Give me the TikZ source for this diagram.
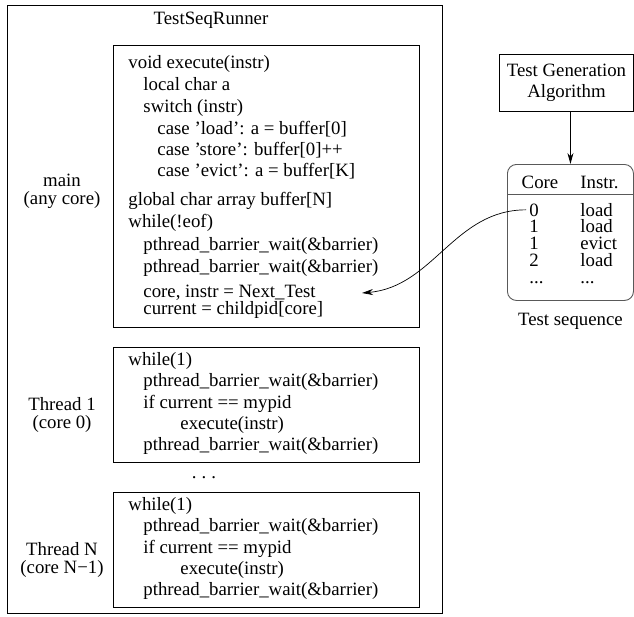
\documentclass[tikz,border=0pt]{standalone}
\usepackage{fontspec}
\setmainfont{Liberation Serif}
\usetikzlibrary{positioning, arrows.meta}

\tikzset{
  frame/.style={draw, anchor=north west, inner sep=0pt},
  seqframe/.style={draw=black!65, anchor=north west, inner sep=0pt, rounded corners=9pt},
  codeline/.style={anchor=base west, inner sep=0pt},
  lbl/.style={align=center, inner sep=0pt, font=\fontsize{18.8pt}{18pt}\selectfont},
  arr/.style={-{Stealth[length=11pt,width=6pt]}}
}

\begin{document}
\begin{tikzpicture}[x=1pt, y=-1pt, line width=0.9pt, font=\fontsize{18.8pt}{21.7pt}\selectfont]
  \useasboundingbox (0,0) rectangle (634,616);
  % runner and main
  \node[frame, minimum width=435pt, minimum height=608pt] (runner) at (7,5) {};
  \node[anchor=base, inner sep=0pt] (title) at (211,24) {TestSeqRunner};
  \node[frame, minimum width=306pt, minimum height=282pt] (mainbox) at (113,45) {};
  \node[lbl] (mainlbl) at (62,191) {main\\(any core)};
  \foreach \yy/\dx/\txt [count=\k] in {
      68/0/{void execute(instr)},
      90/15/{local char a},
      112/15/{switch (instr)},
      134/29/{case 'load': a = buffer[0]},
      155/29/{case 'store': buffer[0]++},
      176/29/{case 'evict': a = buffer[K]},
      205/0/{global char array buffer[N]},
      227/0/{while(!eof)},
      250/15/{pthread\_barrier\_wait(\&barrier)},
      272/15/{pthread\_barrier\_wait(\&barrier)},
      297/15/{core, instr = Next\_Test},
      314/15/{current = childpid[core]}}
    \node[codeline] (m\k) at (128+\dx,\yy) {\txt};
  \coordinate (nexttest) at (362,293);
  % threads
  \foreach \ytop/\num/\cid [count=\t] in {347/1/0, 492/N/N−1} {
    \node[frame, minimum width=306pt, minimum height=115pt] (thr\t) at (113,\ytop) {};
    \node[lbl] (thrlbl\t) at (62,\ytop+68) {Thread \num\\(core \cid)};
    \foreach \dy/\dx/\txt [count=\k] in {
        18/0/{while(1)},
        39/15/{pthread\_barrier\_wait(\&barrier)},
        61/15/{if current == mypid},
        82/52/{execute(instr)},
        103/15/{pthread\_barrier\_wait(\&barrier)}}
      \node[codeline] (thr\t-\k) at (128+\dx,\ytop+\dy) {\txt};
  }
  \node[anchor=base, inner sep=0pt] (dots) at (204,478) {.\hspace{5pt}.\hspace{5pt}.};
  % test generation and sequence
  \node[frame, minimum width=134pt, minimum height=57pt, align=center] (tga) at (499,54) {Test Generation\\Algorithm};
  \node[seqframe, minimum width=126pt, minimum height=136pt] (seq) at (507,164) {};
  \draw[black!65] (507,194) -- (633,194);
  \node[anchor=base, inner sep=0pt] (hcore) at (540,188) {Core};
  \node[codeline] (hinstr) at (580,188) {Instr.};
  \foreach \c/\ins [count=\r] in {0/load, 1/load, 1/evict, 2/load} {
    \node[codeline] (c\r) at (529,199.3+16.7*\r) {\c};
    \node[codeline] (i\r) at (580,199.3+16.7*\r) {\ins};
  }
  \node[codeline] (c5) at (529,283) {...};
  \node[codeline] (i5) at (580,283) {...};
  \node[below=12pt of seq, inner sep=0pt] (seqlbl) {Test sequence};
  \draw[arr] (tga.south -| seq.north) -- (seq.north);
  \draw[arr, line width=0.7pt] ([xshift=-3pt]c1.west) to[out=180, in=5] (nexttest);
\end{tikzpicture}
\end{document}
